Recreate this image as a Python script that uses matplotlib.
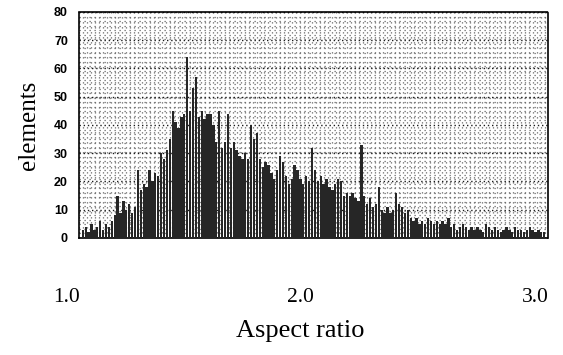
import numpy as np
import matplotlib
matplotlib.use("Agg")
import matplotlib.pyplot as plt

# histograma de relacion de aspecto (160 clases entre 1.0 y 3.0)
x_min = 1.0
x_max = 3.0
conteos = [
    3, 4, 2, 5, 3, 4, 6, 3, 5, 4, 6, 8, 15, 9, 13, 10, 12, 9, 11, 24,
    17, 19, 18, 24, 20, 23, 22, 30, 28, 31, 35, 45, 41, 39, 43, 44, 64, 45, 53, 57,
    43, 45, 42, 44, 44, 40, 34, 45, 32, 34, 44, 32, 34, 31, 29, 28, 30, 28, 40, 35,
    37, 28, 25, 27, 26, 23, 21, 24, 29, 27, 22, 19, 21, 26, 24, 21, 19, 22, 20, 32,
    24, 20, 22, 19, 21, 18, 17, 19, 21, 20, 15, 16, 15, 16, 14, 13, 33, 15, 12, 14,
    11, 12, 18, 10, 9, 11, 9, 10, 16, 12, 11, 9, 10, 7, 6, 7, 5, 6, 5, 7,
    6, 5, 6, 5, 6, 5, 7, 4, 5, 3, 4, 5, 4, 3, 4, 3, 4, 3, 2, 5,
    4, 3, 4, 3, 2, 3, 4, 3, 2, 4, 3, 3, 2, 3, 4, 3, 2, 3, 2, 2,
]
y_ticks = [0, 10, 20, 30, 40, 50, 60, 70, 80]
x_labels = ["1.0", "2.0", "3.0"]

n = len(conteos)
ancho = (x_max - x_min) / n
centros = x_min + ancho * (np.arange(n) + 0.5)

fig = plt.figure(figsize=(5.63, 3.55), dpi=100)
ax = fig.add_axes([0.1403, 0.3296, 0.833, 0.6366])

ax.bar(centros, conteos, width=ancho * 0.8, color="#262626", zorder=3)

ax.set_xlim(0.99, 3.01)
ax.set_ylim(0, 80)

# fondo punteado
ax.set_yticks(y_ticks)
ax.set_yticks(np.arange(0, 80, 1.6), minor=True)
ax.set_xticks([])
ax.set_xticks(np.arange(0.99, 3.01, 0.017), minor=True)
ax.grid(which="minor", color="0.4", linewidth=0.9, linestyle=(0, (1, 3)), zorder=0)
ax.grid(which="major", axis="y", color="0.1", linewidth=1.0, linestyle=(0, (1, 2)), zorder=1)
ax.tick_params(which="both", length=0)
ax.tick_params(axis="y", pad=8)
for lbl in ax.get_yticklabels():
    lbl.set_fontfamily("Liberation Sans")
    lbl.set_fontweight("bold")
    lbl.set_fontsize(9)

for s in ax.spines.values():
    s.set_linestyle((0, (1, 1)))
    s.set_linewidth(1.2)

ax.set_ylabel("elements", family="Liberation Serif", fontsize=18, labelpad=10)

# etiquetas del eje x colocadas a mano como en el original
for etiqueta, px in zip(x_labels, [67, 300, 535]):
    fig.text(px / 563, 1 - 297 / 355, etiqueta, family="Liberation Serif",
             fontsize=15.5, ha="center", va="center")
fig.text(300 / 563, 1 - 331 / 355, "Aspect ratio", family="Liberation Serif",
         fontsize=19, ha="center", va="center")

fig.savefig("out.png", dpi=100)
